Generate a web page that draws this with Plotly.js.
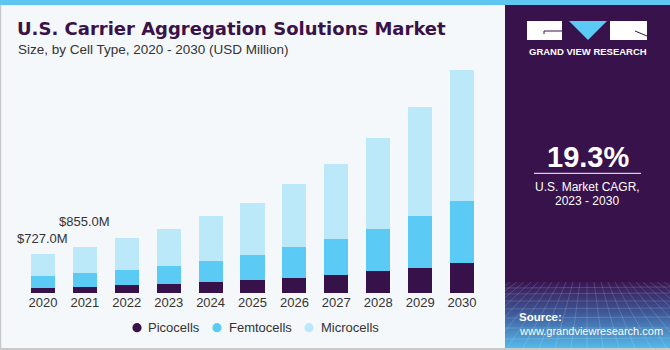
<!DOCTYPE html>
<html>
<head>
<meta charset="utf-8">
<script src="https://cdn.plot.ly/plotly-3.0.1.min.js"></script>
<style>
html,body{margin:0;padding:0;background:#f4f8fb;}
#chart{width:670px;height:350px;}
</style>
</head>
<body>
<div id="chart"></div>
<script>
// ---- data ----
const years = ["2020","2021","2022","2023","2024","2025","2026","2027","2028","2029","2030"];
const picocells  = [93, 111, 148, 166, 198, 240, 283, 333, 400, 468, 555];
const femtocells = [222, 259, 277, 339, 400, 463, 561, 672, 784, 949, 1141];
const microcells = [412, 485, 592, 685, 821, 968, 1173, 1388, 1676, 2017, 2436];
const seriesNames = ["Picocells", "Femtocells", "Microcells"];
const totalLabels = ["&#36;727.0M", "&#36;855.0M"];
const cagrText = "19.3%";

// ---- layout helpers ----
const W = 670, H = 350;
const M = {l: 22, r: 187, t: 60, b: 57};
const PW = W - M.l - M.r, PH = H - M.t - M.b;
const X = px => (px - M.l) / PW;
const Y = py => 1 - (py - M.t) / PH;
const colors = ["#37114a", "#5bcbf5", "#bce9f9"];
const FONT = "Liberation Sans, Arial, sans-serif";
const YMAX = PH * 18.5;

const seriesData = [picocells, femtocells, microcells];
const traces = seriesData.map((vals, i) => ({
  type: "bar",
  x: years,
  y: vals,
  name: seriesNames[i],
  marker: {color: colors[i], line: {width: 0}},
  showlegend: false,
  hoverinfo: "x+y+name"
}));

const totals = years.map((_, i) => picocells[i] + femtocells[i] + microcells[i]);

// gradient/grid image for the source box
function gridSvg() {
  const w = 165, h = 66;
  let lines = "";
  const hy = [6, 12, 19, 27, 36, 46, 57];
  hy.forEach(y => { lines += `<line x1="0" y1="${y}" x2="${w}" y2="${y + (y % 3) - 1}" />`; });
  for (let k = -12; k <= 24; k++) {
    const xt = 82 + k * 7, xb = 82 + k * 16;
    lines += `<line x1="${xt}" y1="0" x2="${xb}" y2="${h}" />`;
  }
  const svg = `<svg xmlns="http://www.w3.org/2000/svg" width="${w}" height="${h}" viewBox="0 0 ${w} ${h}">
<defs><linearGradient id="g" x1="0" y1="0" x2="0" y2="1">
<stop offset="0" stop-color="#3a1652"/><stop offset="0.45" stop-color="#3d5596"/><stop offset="1" stop-color="#55b9ea"/></linearGradient></defs>
<rect width="${w}" height="${h}" fill="url(#g)"/>
<g stroke="#ffffff" stroke-opacity="0.22" stroke-width="0.7" fill="none">${lines}</g></svg>`;
  return "data:image/svg+xml;charset=utf-8," + encodeURIComponent(svg);
}

const shapes = [
  {type: "rect", xref: "paper", yref: "paper", x0: X(0), x1: X(670), y0: Y(5), y1: Y(0), fillcolor: "#5ec6f0", line: {width: 0}, layer: "below"},
  {type: "rect", xref: "paper", yref: "paper", x0: X(505), x1: X(670), y0: Y(348), y1: Y(5), fillcolor: "#38124a", line: {width: 0}, layer: "below"},
  {type: "line", xref: "paper", yref: "paper", x0: X(0.5), x1: X(0.5), y0: Y(350), y1: Y(5), line: {color: "#c9c9c9", width: 1.5}, layer: "below"},
  {type: "rect", xref: "paper", yref: "paper", x0: X(0), x1: X(670), y0: Y(350), y1: Y(348), fillcolor: "#c9c9c9", line: {width: 0}, layer: "below"},
  // logo
  {type: "rect", xref: "paper", yref: "paper", x0: X(527), x1: X(562), y0: Y(40), y1: Y(21), fillcolor: "#ffffff", line: {width: 0}},
  {type: "path", xref: "paper", yref: "paper", path: `M ${X(569)} ${Y(21)} L ${X(607)} ${Y(21)} L ${X(588)} ${Y(40)} Z`, fillcolor: "#5bcbf5", line: {width: 0}},
  {type: "rect", xref: "paper", yref: "paper", x0: X(610), x1: X(647), y0: Y(40), y1: Y(21), fillcolor: "#ffffff", line: {width: 0}},
  {type: "path", xref: "paper", yref: "paper", path: `M ${X(562)} ${Y(31)} L ${X(544)} ${Y(31)} L ${X(544)} ${Y(34)}`, line: {color: "#38124a", width: 1}},
  {type: "line", xref: "paper", yref: "paper", x0: X(635), x1: X(647), y0: Y(31), y1: Y(36), line: {color: "#38124a", width: 1}},
  // CAGR underline
  {type: "line", xref: "paper", yref: "paper", x0: X(534), x1: X(641), y0: Y(173.3), y1: Y(173.3), line: {color: "#ffffff", width: 1}}
];

// legend circles
const legendMarkX = [137, 217, 309];
const legendTextX = [147, 228, 320];
const legendY = 327.7;
seriesNames.forEach((n, i) => {
  shapes.push({type: "circle", xref: "paper", yref: "paper",
    x0: X(legendMarkX[i] - 4.6), x1: X(legendMarkX[i] + 4.6),
    y0: Y(legendY + 4.6), y1: Y(legendY - 4.6),
    fillcolor: colors[i], line: {width: 0}});
});

const ann = [];
const txt = (text, px, py, opts) => Object.assign({
  text, xref: "paper", yref: "paper", x: X(px), y: Y(py), showarrow: false,
  xanchor: "left", yanchor: "middle", font: {family: FONT, size: 13, color: "#333333"}
}, opts || {});

ann.push(txt("<b>U.S. Carrier Aggregation Solutions Market</b>", 15, 28.5, {font: {family: "DejaVu Sans, sans-serif", size: 18, color: "#3a1248"}}));
ann.push(txt("Size, by Cell Type, 2020 - 2030 (USD Million)", 16, 49.5, {font: {family: FONT, size: 13.5, color: "#333333"}}));

// total labels (positioned from the data through the axis scale)
const labelShift = [15, 25];
totalLabels.forEach((t, i) => {
  ann.push({text: t, xref: "paper", yref: "paper",
    x: (i + 0.5) / years.length, y: totals[i] / YMAX, showarrow: false,
    xanchor: "center", yanchor: "middle", yshift: labelShift[i],
    font: {family: FONT, size: 13, color: "#333333"}});
});

// legend texts
seriesNames.forEach((n, i) => ann.push(txt(n, legendTextX[i] - 1, legendY)));

// right panel texts
ann.push(txt("<b>GRAND VIEW RESEARCH</b>", 587.5, 51.5, {xanchor: "center", font: {family: FONT, size: 9.5, color: "#ffffff"}}));
ann.push(txt("<b>" + cagrText + "</b>", 588, 157, {xanchor: "center", font: {family: FONT, size: 29, color: "#ffffff"}}));
ann.push(txt("U.S. Market CAGR,", 587, 186.7, {xanchor: "center", font: {family: FONT, size: 12, color: "#ffffff"}}));
ann.push(txt("2023 - 2030", 587, 200.7, {xanchor: "center", font: {family: FONT, size: 12, color: "#ffffff"}}));
ann.push(txt("<b>Source:</b>", 517, 316.7, {font: {family: FONT, size: 11.5, color: "#ffffff"}}));
ann.push(txt("www.grandviewresearch.com", 517, 330.5, {font: {family: FONT, size: 11, color: "#ffffff"}}));

const layout = {
  width: W, height: H,
  margin: M,
  paper_bgcolor: "#f4f8fb",
  plot_bgcolor: "rgba(0,0,0,0)",
  barmode: "stack",
  bargap: 0.427,
  showlegend: false,
  xaxis: {type: "category", range: [-0.5, 10.5], showgrid: false, zeroline: false, showline: false,
    ticks: "", tickfont: {family: FONT, size: 13, color: "#333333"}, fixedrange: true},
  yaxis: {range: [0, YMAX], visible: false, showgrid: false, zeroline: false, fixedrange: true},
  shapes: shapes,
  annotations: ann,
  images: [{source: gridSvg(), xref: "paper", yref: "paper", x: X(505), y: Y(282), sizex: X(670) - X(505), sizey: Y(282) - Y(348),
    xanchor: "left", yanchor: "top", sizing: "stretch", layer: "above"}]
};

Plotly.newPlot("chart", traces, layout, {displayModeBar: false, staticPlot: true});
</script>
</body>
</html>
